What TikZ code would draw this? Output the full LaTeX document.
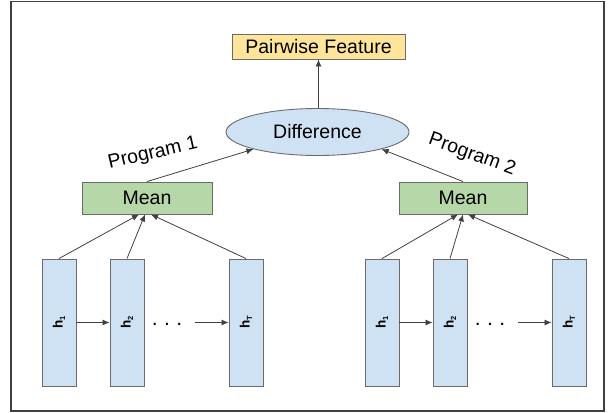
\documentclass[tikz,border=0pt]{standalone}
\usepackage{fontspec}
\setmainfont{Liberation Sans}
\usetikzlibrary{shapes.geometric,arrows.meta}
\definecolor{bordercol}{HTML}{6B6B6B}
\definecolor{pfcol}{HTML}{FFE599}
\definecolor{meancol}{HTML}{B6D7A8}
\definecolor{hcol}{HTML}{CFE2F3}
\definecolor{linecol}{HTML}{404040}
\newcommand{\hsub}[1]{\raisebox{-2.5pt}{\fontsize{7.5}{8}\selectfont #1}}
\tikzset{
  box/.style={draw=bordercol, line width=0.9pt, inner sep=0pt, font=\fontsize{19.5}{20}\selectfont},
  pfbox/.style={box, fill=pfcol, minimum width=173pt, minimum height=25pt},
  meanbox/.style={box, fill=meancol, minimum width=130pt, minimum height=32pt},
  diffell/.style={box, ellipse, fill=hcol, minimum width=183pt, minimum height=47pt},
  hbar/.style={draw=bordercol, line width=0.9pt, fill=hcol, minimum width=34pt, minimum height=127pt, inner sep=0pt},
  hlabel/.style={rotate=90, font=\fontsize{13.5}{14}\selectfont\bfseries},
  conn/.style={draw=linecol, line width=0.8pt, -{Latex[length=7pt,width=6pt]}},
  proglabel/.style={font=\fontsize{19.5}{20}\selectfont},
  dotslabel/.style={font=\fontsize{21}{21}\selectfont, inner sep=0pt, anchor=base}
}
\begin{document}
\begin{tikzpicture}[x=1pt,y=-1pt]
\useasboundingbox (0,0) rectangle (609,412);
\draw[draw=black!75, line width=1.2pt] (11,1.5) rectangle (604,411);

\node[pfbox] (pf) at (318.5,46.5) {Pairwise Feature};
\node[diffell] (diff) at (317.5,132) {Difference};
\node[meanbox] (meanL) at (147,198) {Mean};
\node[meanbox, minimum width=128pt] (meanR) at (463,198) {Mean};

\node[hbar] (hL1) at (59,322.5) {};
\node[hbar] (hL2) at (127,322.5) {};
\node[hbar] (hLT) at (246,322.5) {};
\node[hbar] (hR1) at (382,322.5) {};
\node[hbar] (hR2) at (450,322.5) {};
\node[hbar] (hRT) at (569,322.5) {};

\node[hlabel] at (hL1) {h\hsub{1}};
\node[hlabel] at (hL2) {h\hsub{2}};
\node[hlabel] at (hLT) {h\hsub{T}};
\node[hlabel] at (hR1) {h\hsub{1}};
\node[hlabel] at (hR2) {h\hsub{2}};
\node[hlabel] at (hRT) {h\hsub{T}};

\node[dotslabel] (dotsL) at (167,325) {.\hspace{6.5pt}.\hspace{6.5pt}.};
\node[dotslabel] (dotsR) at (490,325) {.\hspace{6.5pt}.\hspace{6.5pt}.};
\coordinate (cL) at (195,322.5);
\coordinate (cR) at (518,322.5);

\node[proglabel, rotate=13] (p1) at (153,154) {Program 1};
\node[proglabel, rotate=-20] (p2) at (472,155) {Program 2};

\draw[conn] (pf.south |- diff.north) -- (pf.south);
\draw[conn] (meanL.north) -- (diff.195);
\draw[conn] (meanR.north) -- (diff.345);

\draw[conn] (hL1.north) -- ([xshift=-8pt]meanL.south);
\draw[conn] (hL2.north) -- ([xshift=-2pt]meanL.south);
\draw[conn] (hLT.north) -- ([xshift=4pt]meanL.south);
\draw[conn] (hR1.north) -- ([xshift=-5pt]meanR.south);
\draw[conn] (hR2.north) -- ([xshift=0pt]meanR.south);
\draw[conn] (hRT.north) -- ([xshift=5pt]meanR.south);

\draw[conn] (hL1.east) -- (hL2.west);
\draw[conn] (cL) -- (hLT.west);
\draw[conn] (hR1.east) -- (hR2.west);
\draw[conn] (cR) -- (hRT.west);
\end{tikzpicture}
\end{document}
